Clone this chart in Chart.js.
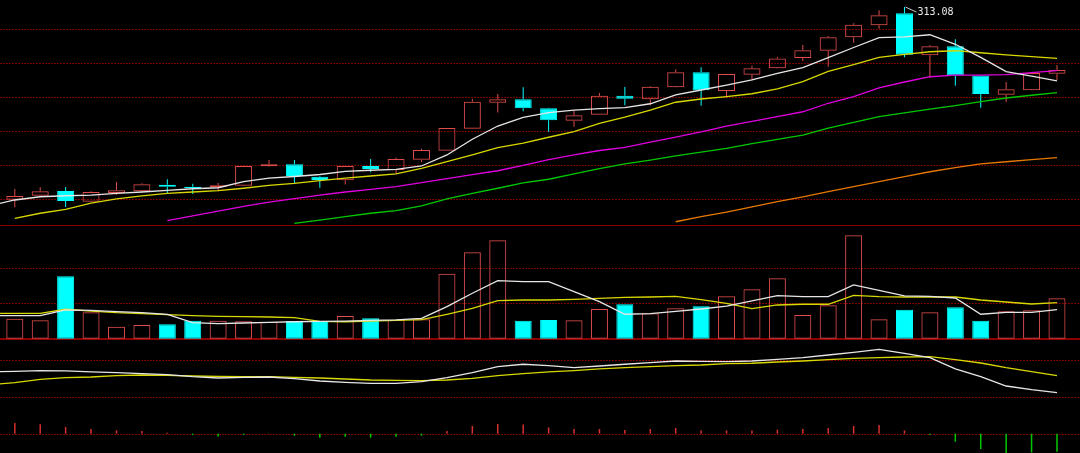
<!DOCTYPE html>
<html>
<head>
<meta charset="utf-8">
<script src="https://cdn.jsdelivr.net/npm/chart.js@4.4.0/dist/chart.umd.min.js"></script>
<style>
  html, body { margin: 0; padding: 0; background: #000; overflow: hidden; }
  #wrap { width: 1080px; height: 453px; }
</style>
</head>
<body>
<div id="wrap"><canvas id="kline" width="1080" height="453"></canvas></div>
<script>
// daily candles, oldest first
const opens  = [199.8, 202.1, 204.9, 198.6, 203.7, 204.7, 208.6, 207.4, 207.1, 208.0, 219.4, 220.6, 213.3, 211.2,
                219.6, 217.2, 223.3, 228.6, 241.5, 256.8, 258.8, 253.5, 246.2, 249.8, 260.9, 258.8, 265.9, 274.7,
                263.7, 273.3, 277.1, 283.1, 287.4, 295.3, 302.4, 309.4, 284.7, 290.0, 272.9, 261.5, 264.1, 273.9];
const highs  = [206.1, 207.1, 207.2, 204.7, 210.2, 209.4, 211.8, 209.2, 209.6, 219.7, 223.1, 223.1, 213.7, 219.7,
                223.7, 224.5, 229.8, 242.0, 259.0, 261.9, 265.9, 253.9, 252.1, 262.5, 266.1, 266.6, 276.5, 277.7,
                273.8, 278.6, 283.9, 290.8, 296.1, 303.5, 311.2, 313.08, 290.8, 294.1, 273.0, 269.0, 274.4, 279.0];
const lows   = [195.3, 201.9, 195.5, 198.4, 202.7, 204.1, 203.1, 203.1, 204.7, 207.8, 219.2, 209.4, 206.8, 208.7,
                215.9, 215.1, 222.0, 228.5, 241.4, 251.0, 251.8, 239.8, 242.7, 249.7, 255.3, 255.3, 265.8, 255.1,
                259.8, 270.4, 277.0, 281.4, 278.0, 292.1, 300.4, 283.5, 271.5, 266.8, 253.9, 257.1, 264.0, 270.2];
const closes = [202.0, 204.7, 199.0, 204.3, 205.3, 208.8, 207.4, 206.6, 208.2, 219.6, 220.6, 213.7, 211.4, 219.6,
                217.8, 223.7, 229.0, 241.9, 257.4, 258.8, 253.5, 246.5, 249.4, 260.9, 259.2, 266.2, 274.7, 264.1,
                273.7, 277.1, 282.9, 287.7, 295.3, 302.7, 308.2, 285.1, 290.0, 272.9, 261.9, 264.7, 274.3, 276.1];
const volumes = [28400, 26100, 88600, 37500, 17000, 19500, 20500, 25600, 25600, 24700, 23700, 25100, 25100, 32200,
                 29000, 26600, 27600, 92300, 122700, 139800, 25600, 26600, 26100, 42200, 48900, 36100, 43200, 46000,
                 60200, 70200, 85800, 33700, 47400, 146900, 27600, 41200, 37500, 44600, 25600, 38900, 40300, 57400];
const macd = [2.14, 1.88, 1.34, 0.94, 0.68, 0.54, 0.2, -0.26, -0.54, -0.26, -0.06, -0.4, -0.8, -0.6,
              -0.8, -0.6, -0.4, 0.54, 1.54, 1.94, 1.86, 1.26, 0.94, 0.94, 0.74, 0.94, 1.14, 0.66,
              0.66, 0.66, 0.8, 0.94, 1.14, 1.54, 1.74, 0.66, -0.26, -1.6, -3.06, -4.0, -3.74, -3.6];

// line series: first entry is the day before the first visible candle
const ma5  = [196.2, 199.6, 201.5, 202.1, 202.5, 203.5, 204.3, 205.3, 206.2, 206.8, 210.4, 212.4, 213.4, 214.6, 216.4,
              217.1, 217.6, 219.6, 226.1, 235.3, 243.1, 248.2, 251.0, 252.5, 253.3, 253.9, 256.2, 261.4, 264.3,
              267.2, 270.2, 274.1, 277.5, 283.4, 289.3, 295.1, 295.5, 296.8, 291.2, 283.5, 275.1, 272.4, 269.6];
const ma10 = [null, 188.8, 191.8, 194.1, 197.7, 200.2, 202.0, 203.5, 204.3, 205.1, 206.5, 208.2, 209.4, 211.0, 212.4,
              213.7, 214.9, 218.2, 222.1, 226.1, 230.4, 233.1, 236.5, 239.8, 244.7, 248.4, 252.5, 257.1, 259.0,
              260.4, 262.1, 264.9, 269.2, 275.3, 279.2, 283.5, 285.3, 286.8, 287.4, 286.2, 284.9, 283.9, 282.9];
const ma20 = [null, null, null, null, null, null, null, 187.4, 190.2, 193.0, 195.8, 198.4, 200.4, 202.4, 204.3,
              205.9, 207.4, 209.8, 212.1, 214.5, 216.8, 220.0, 223.3, 226.1, 228.7, 230.5, 233.7, 236.6, 239.6,
              243.1, 245.9, 248.6, 251.5, 256.5, 260.4, 265.6, 269.0, 272.1, 273.0, 273.1, 273.3, 274.5, 275.7];
const ma30 = [null, null, null, null, null, null, null, null, null, null, null, null, 185.9, 187.8, 189.8,
              191.8, 193.3, 196.1, 200.2, 203.5, 206.5, 209.6, 211.8, 214.9, 218.0, 220.8, 223.1, 225.6, 227.8,
              230.0, 232.7, 235.3, 237.8, 241.9, 245.3, 248.6, 250.8, 253.0, 255.1, 257.4, 259.6, 261.2, 262.7];
const ma60 = [null, null, null, null, null, null, null, null, null, null, null, null, null, null, null,
              null, null, null, null, null, null, null, null, null, null, null, null, 186.8, 189.8,
              192.5, 195.5, 198.6, 201.4, 204.5, 207.4, 210.4, 213.3, 216.2, 218.6, 220.8, 222.1, 223.3, 224.5];
const volMa5  = [32700, 32700, 32700, 40800, 40300, 38400, 36900, 34700, 22700, 21300, 22300, 23300, 24100, 24700, 25100,
                 26100, 26600, 29000, 45500, 64500, 82400, 81000, 81000, 66800, 52600, 34700, 35500, 38900, 42200,
                 46400, 53600, 61100, 59700, 59700, 76300, 68800, 60700, 60200, 57800, 34700, 37500, 37500, 41200];
const volMa10 = [36100, 36100, 36100, 41800, 39300, 36900, 35500, 34100, 32700, 31800, 31300, 30800, 29800, 24700, 24100,
                 25100, 26100, 27000, 34700, 43200, 54000, 55000, 55000, 56000, 57400, 58800, 59200, 60200, 55400,
                 50300, 42600, 47900, 48900, 48900, 61600, 59700, 59200, 59200, 59200, 55000, 52100, 49300, 51100];
const indFast = [60.4, 61.5, 62.4, 62.0, 60.4, 59.3, 57.7, 56.1, 52.9, 50.8, 51.9, 52.4, 49.7, 46.0, 43.9,
                 42.3, 42.3, 44.9, 51.3, 59.3, 68.8, 72.7, 70.4, 67.2, 69.9, 72.7, 75.2, 77.9, 77.4,
                 76.8, 77.9, 80.6, 83.2, 87.5, 91.8, 96.6, 90.2, 83.2, 65.2, 52.9, 38.0, 32.1, 27.3];
const indSlow = [39.8, 43.3, 48.7, 51.3, 52.4, 54.5, 55.6, 55.1, 54.0, 53.5, 52.9, 52.9, 51.9, 50.8, 49.2,
                 47.6, 47.1, 46.5, 47.6, 50.3, 54.5, 57.7, 60.4, 62.4, 65.2, 67.2, 68.8, 70.4, 71.5,
                 73.6, 74.3, 76.3, 77.9, 80.0, 82.2, 83.2, 84.3, 84.8, 80.0, 74.7, 67.2, 60.9, 54.5];

// horizontal rules per panel
const priceGrid = [300, 280, 260, 240, 220, 200];
const volGrid = [50000, 100000];
const volTop = [161500];
const volBase = [0];
const indGrid = [20, 80];
const macdGrid = [0];

const UP = '#e04c4c';
const DOWN = '#00ffff';
const GRID = '#7a0000';
const FRAME = '#8c0000';

const idx = opens.map((_, i) => i);
const isUp = idx.map(i => closes[i] >= opens[i]);
const candleColor = idx.map(i => isUp[i] ? UP : DOWN);
const hollowFill = idx.map(i => isUp[i] ? 'rgba(0,0,0,0)' : DOWN);

// series with a leading "previous day" value sit one slot to the left
const linePts = arr => arr.map((v, i) => ({ x: i - 1, y: v }));

function maLine(data, color, axis) {
    return {
        type: 'line',
        data: linePts(data),
        yAxisID: axis,
        borderColor: color,
        borderWidth: 1.3,
        pointRadius: 0,
        tension: 0,
        spanGaps: false,
        order: 1,
    };
}

const barBase = {
    type: 'bar',
    grouped: false,
    borderSkipped: false,
    inflateAmount: 0,
};

const rules = {
    id: 'rules',
    beforeDatasetsDraw(chart) {
        const { ctx, chartArea: { left, right } } = chart;
        const draw = (axis, values, dashed, width, color) => {
            values.forEach(v => {
                const y = Math.round(chart.scales[axis].getPixelForValue(v)) + (width % 2 ? 0.5 : 0);
                ctx.save();
                ctx.strokeStyle = color;
                ctx.lineWidth = width;
                ctx.setLineDash(dashed ? [2, 1] : []);
                ctx.beginPath();
                ctx.moveTo(left, y);
                ctx.lineTo(right, y);
                ctx.stroke();
                ctx.restore();
            });
        };
        draw('yP', priceGrid, true, 1, GRID);
        draw('yV', volGrid, true, 1, GRID);
        draw('yI', indGrid, true, 1, GRID);
        draw('yM', macdGrid, true, 1, GRID);
        draw('yV', volTop, false, 1, FRAME);
        draw('yV', volBase, false, 2, FRAME);
    }
};

// marks the highest price with a leader line and its value
const highLabel = {
    id: 'highLabel',
    afterDatasetsDraw(chart) {
        const { ctx } = chart;
        let k = 0;
        highs.forEach((h, i) => { if (h > highs[k]) k = i; });
        const x = chart.scales.x.getPixelForValue(k);
        const y = chart.scales.yP.getPixelForValue(highs[k]);
        ctx.save();
        ctx.strokeStyle = '#c8c8c8';
        ctx.lineWidth = 1;
        ctx.beginPath();
        ctx.moveTo(x + 1, y);
        ctx.lineTo(x + 12, y + 5);
        ctx.stroke();
        ctx.fillStyle = '#ececec';
        ctx.font = '10px "DejaVu Sans Mono", monospace';
        ctx.textBaseline = 'middle';
        ctx.fillText(highs[k].toFixed(2), x + 13, y + 5.5);
        ctx.restore();
    }
};

new Chart(document.getElementById('kline'), {
    type: 'bar',
    data: {
        datasets: [
            maLine(ma5, '#e6e6e6', 'yP'),
            maLine(ma10, '#d8d800', 'yP'),
            maLine(ma20, '#e000e0', 'yP'),
            maLine(ma30, '#00c800', 'yP'),
            maLine(ma60, '#e87800', 'yP'),
            maLine(volMa5, '#e6e6e6', 'yV'),
            maLine(volMa10, '#d8d800', 'yV'),
            maLine(indFast, '#e6e6e6', 'yI'),
            maLine(indSlow, '#d8d800', 'yI'),
            {
                ...barBase,
                data: idx.map(i => ({ x: i, y: [opens[i], closes[i]] })),
                yAxisID: 'yP',
                backgroundColor: hollowFill,
                borderColor: candleColor,
                borderWidth: 1,
                barThickness: 17,
                maxBarThickness: 17,
                order: 2,
            },
            {
                ...barBase,
                data: idx.map(i => ({ x: i, y: [Math.max(opens[i], closes[i]), highs[i]] })),
                yAxisID: 'yP',
                backgroundColor: candleColor,
                borderWidth: 0,
                barThickness: 1,
                maxBarThickness: 1,
                order: 3,
            },
            {
                ...barBase,
                data: idx.map(i => ({ x: i, y: [lows[i], Math.min(opens[i], closes[i])] })),
                yAxisID: 'yP',
                backgroundColor: candleColor,
                borderWidth: 0,
                barThickness: 1,
                maxBarThickness: 1,
                order: 3,
            },
            {
                ...barBase,
                data: idx.map(i => ({ x: i, y: volumes[i] })),
                yAxisID: 'yV',
                backgroundColor: hollowFill,
                borderColor: candleColor,
                borderWidth: 1,
                barThickness: 17,
                maxBarThickness: 17,
                order: 2,
            },
            {
                ...barBase,
                data: idx.map(i => ({ x: i, y: macd[i] })),
                yAxisID: 'yM',
                backgroundColor: macd.map(v => v >= 0 ? '#d83030' : '#00c800'),
                borderWidth: 0,
                barThickness: 1.5,
                maxBarThickness: 1.5,
                order: 2,
            },
        ]
    },
    options: {
        responsive: false,
        animation: false,
        events: [],
        layout: { padding: 0 },
        scales: {
            x: { type: 'linear', min: -0.582, max: 41.905, offset: false, display: false },
            yP: { type: 'linear', min: 50.76, max: 317.24, display: false },
            yV: { type: 'linear', min: -162358, max: 481107, display: false },
            yI: { type: 'linear', min: -68.9, max: 654.0, display: false },
            yM: { type: 'linear', min: -3.86, max: 86.74, display: false },
        },
        plugins: {
            legend: { display: false },
            tooltip: { enabled: false },
        }
    },
    plugins: [rules, highLabel]
});
</script>
</body>
</html>
